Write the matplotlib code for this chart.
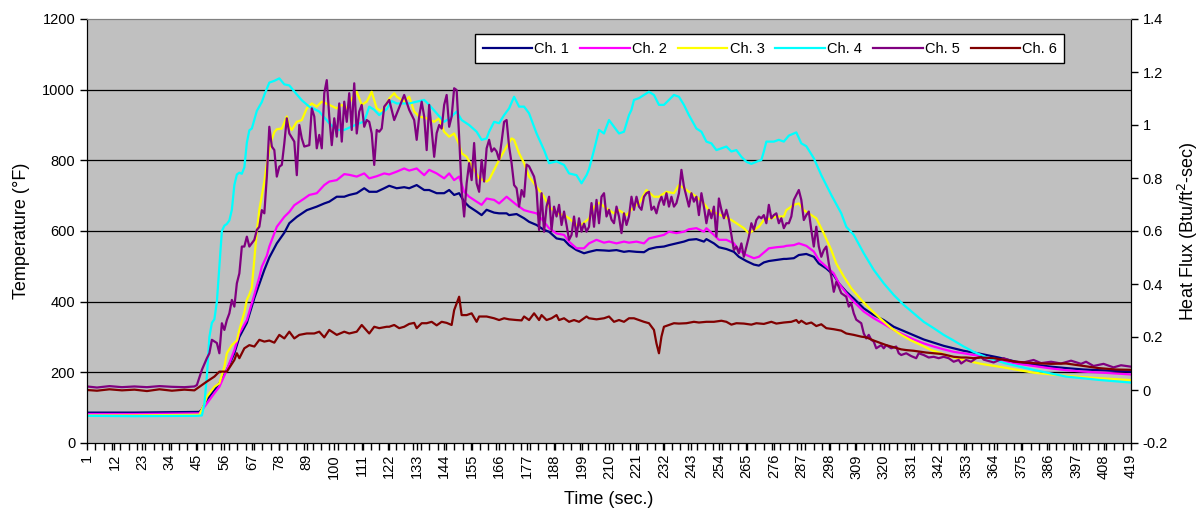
import matplotlib
matplotlib.use("Agg")
import matplotlib.pyplot as plt
import numpy as np

plt.rcParams['font.family'] = ['Liberation Sans', 'DejaVu Sans']

# values (left axis, deg F), time in seconds
t_ch1 = [1, 20, 46, 47, 49, 52, 54, 57, 60, 62, 65, 68, 70, 72, 74, 77, 80, 82, 85, 89,
         93, 96, 98, 101, 104, 106, 109, 112, 114, 117, 120, 122, 125, 128, 130, 133, 136, 138, 141, 144,
         146, 148, 150, 152, 154, 157, 159, 161, 164, 166, 169, 170, 173, 176, 178, 181, 184, 186, 189, 192,
         194, 197, 200, 202, 205, 208, 210, 213, 216, 218, 221, 224, 226, 229, 232, 234, 237, 240, 242, 245,
         248, 249, 252, 254, 257, 260, 262, 265, 268, 270, 272, 274, 277, 280, 281, 284, 286, 289, 292, 294,
         297, 300, 302, 305, 308, 312, 316, 320, 324, 328, 332, 336, 340, 344, 348, 352, 356, 359, 366, 373,
         380, 387, 393, 400, 410, 419]
ch1 = [86, 86, 88, 95, 122, 150, 169, 207, 254, 300, 340, 410, 450, 490, 525, 565, 595, 622, 640, 659,
       669, 678, 683, 697, 697, 702, 707, 721, 711, 711, 721, 728, 721, 724, 721, 730, 716, 716, 707, 707,
       716, 702, 707, 683, 669, 655, 645, 660, 652, 650, 650, 645, 648, 636, 626, 617, 603, 598, 579, 575,
       560, 546, 537, 541, 546, 545, 544, 546, 541, 543, 541, 540, 549, 554, 556, 560, 565, 570, 575, 577,
       570, 577, 565, 554, 549, 541, 527, 515, 505, 502, 511, 515, 518, 521, 521, 523, 532, 535, 527, 508,
       494, 475, 452, 428, 409, 381, 362, 348, 329, 317, 305, 293, 284, 275, 268, 261, 256, 252, 242, 230,
       222, 216, 212, 208, 205, 202]

t_ch2 = [1, 20, 46, 47, 49, 52, 54, 57, 60, 62, 65, 68, 70, 71, 73, 74, 77, 80, 82, 84,
         88, 90, 93, 96, 98, 101, 104, 106, 109, 112, 114, 117, 120, 122, 125, 128, 130, 133, 136, 138,
         141, 144, 146, 148, 150, 152, 154, 157, 159, 161, 164, 166, 169, 173, 176, 178, 181, 184, 186, 189,
         192, 194, 197, 200, 202, 205, 208, 210, 213, 216, 218, 221, 224, 226, 229, 232, 234, 237, 240, 242,
         245, 248, 249, 252, 254, 257, 260, 262, 265, 268, 270, 272, 274, 277, 280, 281, 284, 286, 289, 292,
         294, 297, 300, 302, 305, 308, 312, 316, 320, 324, 328, 332, 336, 340, 344, 348, 352, 356, 359, 366,
         373, 380, 387, 393, 400, 410, 419]
ch2 = [82, 82, 84, 92, 112, 141, 159, 207, 263, 310, 348, 420, 470, 499, 530, 556, 612, 640, 654, 673,
       692, 702, 707, 730, 740, 744, 761, 759, 754, 763, 749, 755, 763, 760, 768, 777, 771, 777, 758, 773,
       763, 749, 763, 744, 754, 711, 697, 683, 674, 692, 688, 678, 697, 674, 659, 655, 650, 626, 608, 593,
       589, 570, 551, 551, 565, 575, 567, 570, 565, 570, 567, 570, 565, 579, 584, 589, 598, 594, 598, 605,
       608, 598, 608, 589, 575, 575, 565, 546, 532, 523, 527, 539, 551, 554, 556, 558, 560, 565, 558, 542,
       518, 499, 480, 452, 424, 400, 372, 353, 337, 320, 306, 293, 282, 273, 265, 258, 254, 249, 246, 235,
       225, 218, 211, 206, 202, 198, 194]

t_ch3 = [1, 20, 46, 48, 49, 52, 54, 56, 57, 59, 61, 62, 64, 65, 66, 67, 68, 69, 70, 71,
         72, 73, 74, 75, 76, 77, 79, 81, 82, 83, 85, 87, 89, 91, 93, 95, 98, 101, 103, 105,
         107, 109, 111, 113, 115, 117, 119, 121, 122, 124, 125, 128, 130, 132, 134, 137, 140, 142, 144, 146,
         148, 150, 151, 153, 156, 158, 161, 162, 164, 166, 169, 171, 172, 174, 176, 178, 181, 184, 186, 189,
         192, 194, 197, 199, 202, 204, 206, 209, 212, 214, 217, 220, 222, 225, 228, 230, 233, 236, 238, 240,
         242, 245, 248, 250, 253, 256, 259, 261, 264, 266, 268, 270, 272, 275, 277, 280, 281, 284, 286, 288,
         291, 293, 296, 299, 301, 304, 307, 311, 315, 319, 323, 327, 331, 335, 339, 343, 347, 351, 355, 359,
         367, 380, 393, 407, 419]
ch3 = [78, 78, 80, 110, 131, 159, 169, 216, 254, 277, 290, 320, 370, 405, 420, 440, 520, 600, 660, 700,
       740, 790, 830, 860, 880, 888, 890, 924, 896, 886, 909, 914, 947, 961, 952, 966, 957, 947, 957, 947,
       975, 994, 957, 966, 994, 947, 938, 961, 975, 990, 980, 966, 980, 938, 924, 919, 909, 919, 881, 867,
       876, 845, 820, 810, 773, 749, 740, 745, 773, 801, 839, 862, 858, 820, 792, 754, 725, 697, 669, 650,
       645, 636, 617, 618, 635, 668, 680, 664, 650, 659, 645, 669, 678, 716, 697, 697, 711, 707, 730, 721,
       711, 697, 678, 659, 650, 641, 631, 622, 608, 593, 603, 612, 631, 636, 641, 641, 659, 674, 678, 659,
       645, 636, 593, 546, 508, 471, 438, 405, 376, 350, 325, 306, 290, 277, 263, 254, 244, 237, 230, 224,
       215, 199, 190, 183, 178]

t_ch4 = [1, 20, 45, 47, 48, 49, 50, 51, 52, 53, 54, 55, 56, 57, 58, 59, 60, 61, 62, 63,
         64, 65, 66, 67, 69, 71, 72, 74, 76, 78, 80, 82, 84, 87, 90, 94, 98, 101, 104, 109,
         112, 114, 116, 118, 121, 123, 125, 128, 130, 133, 136, 138, 141, 144, 146, 149, 151, 154, 157, 159,
         161, 162, 164, 166, 168, 170, 172, 174, 176, 178, 181, 184, 186, 189, 192, 194, 197, 199, 201, 202,
         204, 206, 208, 210, 212, 214, 216, 218, 219, 220, 222, 224, 226, 228, 230, 232, 234, 236, 238, 240,
         242, 245, 247, 249, 251, 253, 255, 257, 259, 261, 263, 265, 267, 269, 271, 272, 273, 276, 278, 280,
         282, 285, 287, 289, 292, 295, 299, 303, 305, 308, 312, 316, 320, 324, 328, 332, 336, 340, 344, 348,
         352, 356, 359, 362, 369, 380, 393, 407, 419]
ch4 = [77, 76, 77, 78, 110, 190, 300, 340, 350, 400, 500, 600, 615, 620, 630, 660, 730, 760, 765, 762,
       780, 850, 885, 890, 940, 965, 985, 1020, 1025, 1032, 1015, 1012, 995, 970, 952, 938, 905, 886, 886, 902,
       910, 952, 943, 928, 945, 968, 961, 961, 961, 966, 971, 957, 933, 909, 918, 938, 914, 900, 881, 858,
       862, 881, 909, 905, 928, 947, 980, 952, 952, 933, 876, 829, 792, 797, 787, 763, 758, 735, 758, 775,
       829, 886, 876, 914, 895, 876, 881, 928, 943, 971, 976, 985, 994, 985, 957, 957, 971, 985, 980, 957,
       928, 890, 881, 853, 848, 829, 834, 839, 825, 829, 810, 796, 790, 796, 801, 825, 853, 853, 858, 853,
       870, 879, 848, 840, 806, 758, 702, 650, 612, 589, 537, 490, 452, 419, 391, 367, 343, 325, 306, 290,
       273, 258, 249, 240, 225, 207, 188, 178, 171]

t_ch5 = [1, 5, 10, 15, 20, 25, 30, 35, 40, 44,
         45, 47, 49, 50, 51, 53, 54, 55, 56, 57,
         58, 59, 60, 61, 62, 63, 64, 65, 66, 68,
         69, 70, 71, 72, 73, 74, 75, 76, 77, 78,
         79, 80, 81, 82, 84, 85, 86, 87, 88, 90,
         91, 92, 93, 94, 95, 96, 97, 98, 99, 100,
         101, 102, 103, 104, 105, 106, 107, 108, 109, 110,
         111, 112, 113, 114, 115, 116, 117, 118, 119, 120,
         121, 122, 124, 128, 130, 132, 133, 134, 135, 136,
         137, 138, 139, 140, 141, 142, 143, 144, 145, 146,
         147, 148, 149, 150, 151, 152, 153, 154, 155, 156,
         157, 158, 159, 160, 161, 162, 163, 164, 165, 166,
         167, 168, 169, 170, 171, 172, 173, 174, 175, 176,
         177, 178, 180, 181, 182, 183, 184, 185, 186, 187,
         188, 189, 190, 191, 192, 193, 194, 195, 196, 197,
         198, 199, 200, 201, 202, 203, 204, 205, 206, 207,
         208, 209, 210, 211, 212, 213, 214, 215, 216, 217,
         218, 219, 220, 221, 222, 223, 224, 225, 226, 227,
         228, 229, 230, 231, 232, 233, 234, 235, 236, 237,
         238, 239, 240, 241, 242, 243, 244, 245, 246, 247,
         248, 249, 250, 251, 252, 253, 254, 255, 256, 257,
         258, 259, 260, 261, 262, 263, 264, 265, 266, 267,
         268, 269, 270, 271, 272, 273, 274, 275, 276, 277,
         278, 279, 280, 281, 282, 283, 284, 286, 287, 288,
         289, 290, 291, 292, 293, 294, 295, 296, 297, 298,
         299, 300, 301, 302, 303, 305, 306, 307, 308, 309,
         311, 312, 313, 314, 315, 316, 317, 319, 320, 321,
         323, 325, 326, 327, 329, 331, 333, 334, 336, 338,
         340, 342, 344, 346, 348, 350, 351, 353, 355, 357,
         359, 360, 364, 368, 372, 376, 380, 383, 387, 391,
         395, 399, 401, 404, 408, 412, 415, 419]
ch5 = [160, 157, 161, 158, 160, 158, 161, 159, 158, 160,
       164, 207, 240, 254, 292, 283, 254, 339, 320, 348,
       367, 405, 386, 452, 480, 556, 556, 584, 556, 575,
       603, 612, 659, 650, 754, 895, 839, 829, 754, 782,
       787, 848, 919, 876, 853, 758, 900, 862, 839, 843,
       947, 924, 834, 872, 834, 990, 1027, 924, 843, 919,
       867, 961, 853, 966, 909, 990, 886, 1018, 876, 938,
       957, 895, 914, 909, 876, 787, 886, 881, 890, 952,
       961, 971, 914, 985, 943, 914, 858, 924, 966, 924,
       829, 957, 886, 810, 877, 900, 890, 957, 985, 895,
       924, 1004, 999, 867, 716, 641, 735, 792, 744, 849,
       735, 711, 801, 740, 834, 858, 825, 834, 825, 801,
       853, 909, 914, 839, 792, 730, 721, 669, 716, 697,
       788, 783, 754, 716, 603, 707, 598, 669, 697, 603,
       669, 641, 674, 617, 655, 617, 575, 589, 641, 584,
       636, 598, 621, 598, 612, 679, 612, 688, 622, 697,
       707, 641, 660, 632, 622, 669, 641, 594, 650, 617,
       641, 697, 660, 697, 669, 660, 697, 707, 711, 660,
       669, 650, 679, 697, 674, 707, 669, 697, 669, 679,
       707, 773, 726, 697, 669, 707, 683, 697, 645, 707,
       669, 622, 660, 636, 669, 584, 692, 660, 636, 660,
       632, 589, 546, 556, 537, 565, 527, 556, 584, 622,
       603, 631, 641, 636, 645, 622, 674, 636, 645, 650,
       622, 636, 608, 622, 622, 641, 688, 716, 688, 631,
       645, 655, 603, 556, 612, 556, 527, 546, 556, 508,
       471, 428, 456, 442, 424, 414, 386, 395, 367, 349,
       339, 310, 296, 306, 292, 287, 268, 277, 268, 277,
       268, 273, 254, 249, 254, 246, 240, 254, 249, 242,
       244, 240, 244, 240, 230, 235, 225, 235, 230, 240,
       244, 236, 228, 240, 230, 228, 235, 226, 230, 225,
       233, 224, 230, 218, 224, 214, 220, 216]

t_ch6 = [1, 5, 10, 15, 20, 25, 30, 35, 40, 44,
         46, 49, 52, 54, 57, 60, 61, 62, 64, 66,
         68, 70, 72, 74, 76, 78, 80, 82, 84, 86,
         89, 92, 94, 96, 98, 101, 104, 106, 109, 111,
         114, 116, 118, 121, 122, 124, 126, 128, 130, 132,
         133, 135, 137, 139, 141, 143, 145, 147, 148, 150,
         151, 153, 155, 157, 158, 161, 164, 166, 168, 170,
         173, 175, 176, 178, 180, 182, 183, 185, 187, 189,
         190, 192, 194, 196, 198, 201, 202, 205, 208, 210,
         212, 214, 216, 218, 220, 222, 224, 226, 228, 229,
         230, 231, 232, 234, 236, 238, 241, 244, 246, 249,
         252, 255, 257, 259, 261, 264, 267, 269, 272, 275,
         277, 280, 283, 285, 286, 287, 289, 291, 293, 295,
         297, 300, 303, 305, 308, 311, 313, 316, 319, 321,
         324, 327, 329, 332, 335, 337, 340, 343, 345, 348,
         351, 353, 356, 359, 364, 373, 380, 387, 393, 400,
         406, 413, 419]
ch6 = [150, 148, 152, 149, 151, 147, 152, 148, 151, 149,
       159, 174, 188, 202, 202, 235, 254, 240, 268, 277,
       273, 292, 287, 290, 284, 306, 296, 315, 296, 306,
       310, 310, 315, 299, 320, 306, 315, 310, 315, 334,
       310, 329, 325, 329, 329, 334, 325, 329, 337, 340,
       325, 339, 339, 343, 333, 343, 340, 334, 376, 414,
       362, 362, 367, 343, 358, 358, 353, 348, 353, 350,
       348, 347, 358, 348, 367, 348, 362, 348, 353, 362,
       348, 353, 343, 348, 343, 358, 353, 350, 353, 358,
       343, 348, 343, 353, 353, 348, 343, 339, 320, 282,
       254, 301, 329, 334, 339, 338, 339, 343, 341, 343,
       343, 346, 343, 335, 339, 338, 335, 339, 337, 343,
       338, 341, 343, 348, 340, 346, 337, 341, 331, 336,
       325, 322, 318, 310, 306, 301, 299, 290, 282, 277,
       271, 265, 263, 261, 258, 256, 254, 252, 249, 244,
       242, 242, 240, 242, 240, 230, 226, 224, 225, 218,
       212, 208, 207]

names = ["Ch. 1", "Ch. 2", "Ch. 3", "Ch. 4", "Ch. 5", "Ch. 6"]
colors = ["#000080", "#FF00FF", "#FFFF00", "#00FFFF", "#800080", "#800000"]
x_labels = list(range(1, 420, 11))
grid_levels = [200, 400, 600, 800, 1000]
flux_ticks = [-0.2, 0, 0.2, 0.4, 0.6, 0.8, 1, 1.2, 1.4]
flux_labels = ["-0.2", "0", "0.2", "0.4", "0.6", "0.8", "1", "1.2", "1.4"]

fig = plt.figure(figsize=(12.03, 5.12), dpi=100)
ax = fig.add_axes([87 / 1203, 69 / 512, 1044 / 1203, 424 / 512])
ax.set_facecolor("#C0C0C0")

for g in grid_levels:
    ax.axhline(g, color="black", lw=0.9, zorder=1)

all_t = [t_ch1, t_ch2, t_ch3, t_ch4, t_ch5, t_ch6]
all_v = [ch1, ch2, ch3, ch4, ch5, ch6]
for t, v, name, c in zip(all_t, all_v, names, colors):
    ax.plot(t, v, color=c, lw=1.6, label=name, zorder=2)

ax.set_xlim(1, 419)
ax.set_ylim(0, 1200)
ax.set_yticks(range(0, 1201, 200))
ax.set_xticks(x_labels)
ax.set_xticklabels([str(x) for x in x_labels], rotation=90)
ax.set_xticks(np.linspace(1, 419, 126), minor=True)
ax.tick_params(axis="both", which="both", direction="out", length=5, width=1,
               labelsize=10.5, color="black")
ax.tick_params(axis="x", which="major", pad=3)
ax.set_ylabel("Temperature (°F)", fontsize=13, labelpad=9)
ax.set_xlabel("Time (sec.)", fontsize=13, labelpad=9)

ax2 = ax.twinx()
ax2.set_ylim(-0.2, 1.4)
ax2.set_yticks(flux_ticks)
ax2.set_yticklabels(flux_labels)
ax2.tick_params(axis="y", direction="out", length=5, width=1, labelsize=10.5)
ax2.set_ylabel("Heat Flux (Btu/ft$^2$-sec)", fontsize=13, labelpad=6)

for a in (ax, ax2):
    a.spines["top"].set_color("#808080")
    a.spines["left"].set_color("black")
    a.spines["right"].set_color("black")
    a.spines["bottom"].set_color("black")

leg = ax.legend(ncol=6, loc="center", bbox_to_anchor=(0.640, 0.905),
                bbox_transform=fig.transFigure, fontsize=10.5, frameon=True,
                fancybox=False, edgecolor="black", framealpha=1,
                handlelength=3.4, handletextpad=0.15, columnspacing=0.75, borderpad=0.5)
leg.get_frame().set_linewidth(1.0)

fig.savefig("out.png", dpi=100)
